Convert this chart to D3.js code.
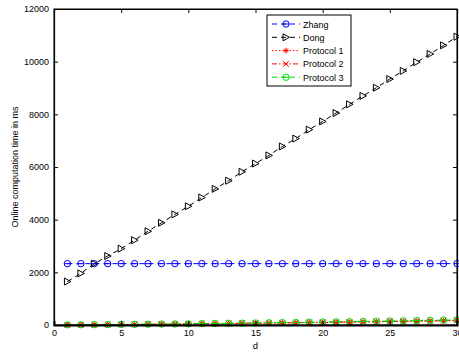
<!DOCTYPE html>
<html><head><meta charset="utf-8">
<script src="https://cdn.jsdelivr.net/npm/d3@7"></script>
<style>body{margin:0;background:#fff}svg{display:block;font-family:"Liberation Sans",Arial,sans-serif}</style>
</head><body><svg id="c" width="459" height="354"></svg>
<script>
const d = [1,2,3,4,5,6,7,8,9,10,11,12,13,14,15,16,17,18,19,20,21,22,23,24,25,26,27,28,29,30];
const zhang = Array(30).fill(2330);
const dong = [1650,1960,2330,2620,2900,3220,3560,3880,4200,4510,4840,5170,5480,5820,6130,6440,6780,7080,7420,7730,8050,8380,8700,9010,9340,9650,9980,10290,10620,10950];
const protocol1 = [5,8,10,14,18,22,26,30,35,40,45,50,55,60,66,72,78,84,90,96,102,108,115,122,129,136,143,150,157,165];
const protocol2 = [5,8,11,15,19,23,28,32,37,42,47,53,58,64,70,76,82,88,95,101,108,115,122,129,136,144,151,159,167,175];
const protocol3 = [6,9,12,16,20,25,30,35,40,46,52,58,64,70,77,84,90,97,104,112,119,127,135,143,151,160,168,177,186,195];
const xTicks = [0,5,10,15,20,25,30];
const yTicks = [0,2000,4000,6000,8000,10000,12000];
const names = ["Zhang","Dong","Protocol 1","Protocol 2","Protocol 3"];

const svg = d3.select("#c");
const L=54,R=457,T=9,B=325;
const x = d3.scaleLinear().domain([0,30]).range([L,R]);
const y = d3.scaleLinear().domain([0,12000]).range([B,T]);

const series = [
 {name:names[0], v:zhang, color:"#0000ff", dash:"5,4", marker:"circle"},
 {name:names[1], v:dong, color:"#000000", dash:"5,4", marker:"tri"},
 {name:names[2], v:protocol1, color:"#ff0000", dash:"1.5,2", marker:"star"},
 {name:names[3], v:protocol2, color:"#ff0000", dash:"5,2,1.5,2", marker:"x"},
 {name:names[4], v:protocol3, color:"#00dd00", dash:"5,4", marker:"circle"}
];

function marker(g, type, cx, cy, color){
  if(type==="circle"){
    g.append("circle").attr("cx",cx).attr("cy",cy).attr("r",3.2).attr("fill","none").attr("stroke",color).attr("stroke-width",1);
    g.append("line").attr("x1",cx-3.2).attr("x2",cx+3.2).attr("y1",cy).attr("y2",cy).attr("stroke",color).attr("stroke-width",1);
  } else if(type==="tri"){
    g.append("path").attr("d",`M${cx-3},${cy-3.5}L${cx+3.5},${cy}L${cx-3},${cy+3.5}Z`).attr("fill","none").attr("stroke",color).attr("stroke-width",1);
  } else if(type==="star"){
    for(let a=0;a<4;a++){const ang=a*Math.PI/4;
      g.append("line").attr("x1",cx-2.8*Math.cos(ang)).attr("x2",cx+2.8*Math.cos(ang)).attr("y1",cy-2.8*Math.sin(ang)).attr("y2",cy+2.8*Math.sin(ang)).attr("stroke",color).attr("stroke-width",1);}
  } else if(type==="x"){
    g.append("path").attr("d",`M${cx-2.8},${cy-2.8}L${cx+2.8},${cy+2.8}M${cx-2.8},${cy+2.8}L${cx+2.8},${cy-2.8}`).attr("stroke",color).attr("stroke-width",1);
  }
}

const plotG = svg.append("g");
const lineGen = (vals)=>d3.line().x((v,i)=>x(d[i])).y(v=>y(v))(vals);
series.forEach(s=>{
  plotG.append("path").attr("d",lineGen(s.v)).attr("fill","none").attr("stroke",s.color).attr("stroke-width",1).attr("stroke-dasharray",s.dash);
});
series.forEach(s=>{
  const g = plotG.append("g");
  s.v.forEach((v,i)=>marker(g,s.marker,x(d[i]),y(v),s.color));
});

svg.append("rect").attr("x",L).attr("y",T).attr("width",R-L).attr("height",B-T).attr("fill","none").attr("stroke","#000").attr("stroke-width",1);
const axB = d3.axisBottom(x).tickValues(xTicks).tickSize(-4).tickPadding(5);
const gb = svg.append("g").attr("transform",`translate(0,${B})`).call(axB);
const axT = d3.axisTop(x).tickValues(xTicks).tickSize(-4).tickFormat("");
const gt = svg.append("g").attr("transform",`translate(0,${T})`).call(axT);
const axL = d3.axisLeft(y).tickValues(yTicks).tickSize(-4).tickPadding(5).tickFormat(d3.format("d"));
const gl = svg.append("g").attr("transform",`translate(${L},0)`).call(axL);
const axR = d3.axisRight(y).tickValues(yTicks).tickSize(-4).tickFormat("");
const gr = svg.append("g").attr("transform",`translate(${R},0)`).call(axR);
[gb,gt,gl,gr].forEach(g=>{g.select(".domain").attr("stroke","#000").attr("stroke-width",1.2);
  g.selectAll("text").attr("font-family","Liberation Sans, Arial, sans-serif").attr("font-size",9).attr("fill","#000");
  g.selectAll(".tick line").attr("stroke","#000");});
gb.select(".domain").attr("stroke-width",2);

svg.append("text").attr("x",(L+R)/2).attr("y",349).attr("text-anchor","middle").attr("font-size",9.5).text("d");
svg.append("text").attr("transform",`translate(18,${(T+B)/2}) rotate(-90)`).attr("text-anchor","middle").attr("font-size",9).text("Online computation time in ms");

const lg = svg.append("g");
lg.append("rect").attr("x",267).attr("y",15).attr("width",84).attr("height",71).attr("fill","#fff").attr("stroke","#000").attr("stroke-width",1);
series.forEach((s,i)=>{
  const yy = 24 + i*13.3;
  lg.append("line").attr("x1",272).attr("x2",300).attr("y1",yy).attr("y2",yy).attr("stroke",s.color).attr("stroke-dasharray",s.dash);
  marker(lg,s.marker,286,yy,s.color);
  lg.append("text").attr("x",303).attr("y",yy+3.5).attr("font-size",9).text(s.name);
});
</script></body></html>
